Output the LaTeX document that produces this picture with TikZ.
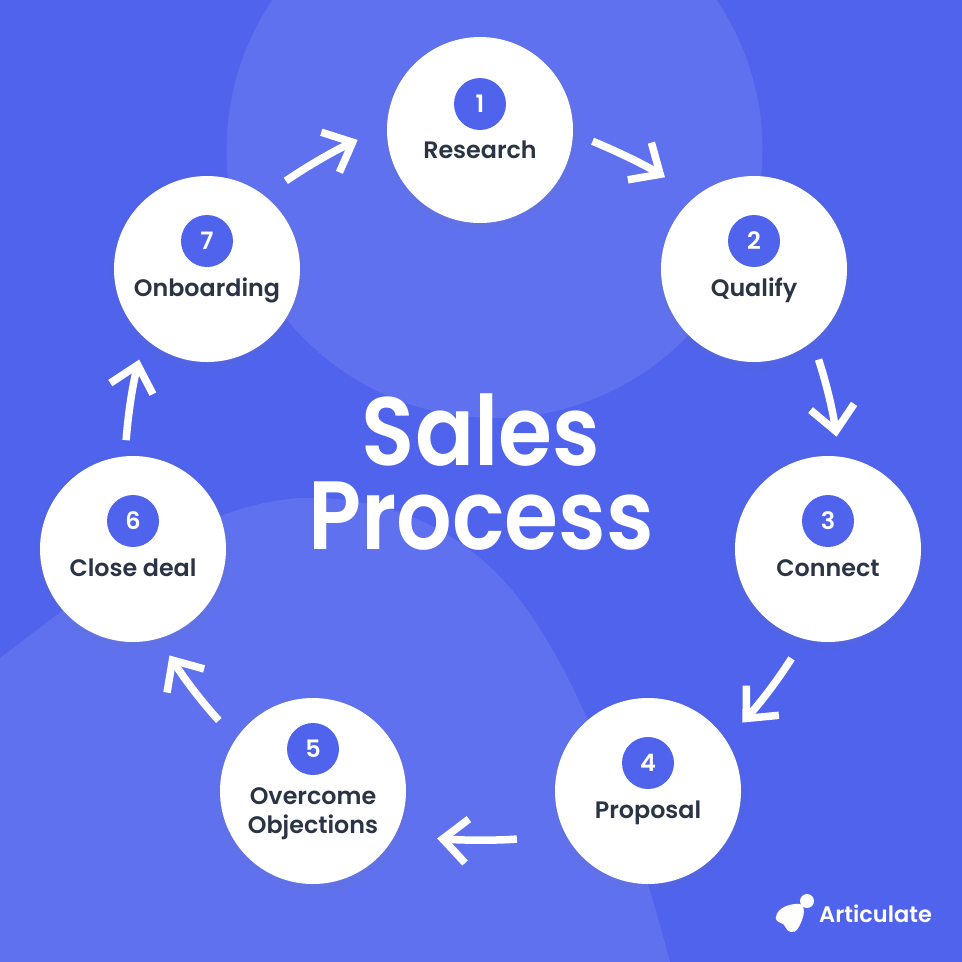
\documentclass[tikz,border=0pt]{standalone}
\usepackage{fontspec}
\setmainfont{Poppins}[UprightFont=* Medium,BoldFont=* SemiBold]
\newfontfamily\titlefont{Poppins SemiBold}[FakeStretch=0.9]
\usepackage{tikz}
\usetikzlibrary{arrows.meta,shadows}
\usepackage{xcolor}
\definecolor{Royal}{HTML}{4F63EC}
\definecolor{SoftRoyal}{HTML}{5F71EE}
\definecolor{Ink}{HTML}{2B3445}

\pgfdeclarearrow{
  name=Vee,
  setup code={
    \pgfarrowssettipend{0pt}
    \pgfarrowssetlineend{-7pt}
    \pgfarrowssetbackend{-30pt}
    \pgfarrowssetvisualbackend{-7pt}
    \pgfarrowshullpoint{0pt}{0pt}
    \pgfarrowshullpoint{-30pt}{23pt}
    \pgfarrowshullpoint{-30pt}{-23pt}
  },
  drawing code={
    \pgfsetdash{}{0pt}
    \pgfsetmiterjoin
    \pgfsetbuttcap
    \pgfpathmoveto{\pgfqpoint{-30pt}{22pt}}
    \pgfpathlineto{\pgfqpoint{-5.6pt}{0pt}}
    \pgfpathlineto{\pgfqpoint{-30pt}{-22pt}}
    \pgfusepathqstroke
  }
}

\begin{document}
\begin{tikzpicture}[
      x=1pt, y=-1pt,
      stage/.style={circle, fill=white, minimum size=186pt, inner sep=0pt,
        circular drop shadow={shadow xshift=0pt, shadow yshift=-3pt, shadow scale=1.07, opacity=.12}},
      badge/.style={circle, fill=Royal, text=white, minimum size=52pt, inner sep=0pt, yshift=28pt, font=\bfseries\fontsize{24}{24}\selectfont},
      label/.style={text=Ink, anchor=base, yshift=-27.5pt, inner sep=0pt, font=\bfseries\fontsize{23.8}{29}\selectfont},
      arrow/.style={-Vee, line width=7.5pt, draw=white, bend left=5}
    ]
    % backdrop
    \fill[Royal] (0,0) rectangle (962,962);
    \begin{scope}
      \clip (0,0) rectangle (962,962);
      \fill[SoftRoyal] (494.5,150) circle (268);
      \fill[SoftRoyal] (0,658) .. controls (90,590) and (190,505) .. (300,498) .. controls (395,495) and (470,535) .. (520,600) .. controls (570,665) and (625,790) .. (670,962) -- (0,962) -- cycle;
    \end{scope}

    \node[stage] (research) at (480,130) {};
    \node[stage] (qualify) at (754,269) {};
    \node[stage] (connect) at (828,549) {};
    \node[stage] (proposal) at (648,791) {};
    \node[stage] (overcome) at (313,791) {};
    \node[stage] (close) at (133,549) {};
    \node[stage] (onboard) at (207,269) {};

    \node[badge, yshift=-2pt] (num1) at (research) {1};
    \node[badge] (num2) at (qualify) {2};
    \node[badge] (num3) at (connect) {3};
    \node[badge] (num4) at (proposal) {4};
    \node[badge, yshift=14pt] (num5) at (overcome) {5};
    \node[badge] (num6) at (close) {6};
    \node[badge] (num7) at (onboard) {7};

    \node[label, yshift=-1pt] (lab1) at (research) {Research};
    \node[label] (lab2) at (qualify) {Qualify};
    \node[label] (lab3) at (connect) {Connect};
    \node[label] (lab4) at (proposal) {Proposal};
    \node[label, anchor=center, align=center, yshift=4.5pt] (lab5) at (overcome) {Overcome\\Objections};
    \node[label] (lab6) at (close) {Close deal};
    \node[label] (lab7) at (onboard) {Onboarding};

    \draw[arrow, shorten <=21pt, shorten >=36pt] (research.-2) to (qualify.129);
    \draw[arrow, shorten <=19pt, shorten >=20pt] (qualify.-51) to (connect.83);
    \draw[arrow, shorten <=23pt, shorten >=24pt] (connect.-105) to (proposal.33);
    \draw[arrow, shorten <=49pt, shorten >=42pt] (proposal.208) to (overcome.-28);
    \draw[arrow, shorten <=25pt, shorten >=20pt] (overcome.146) to (close.-74);
    \draw[arrow, shorten <=16pt, shorten >=22pt] (close.95) to (onboard.228);
    \draw[arrow, shorten <=26pt, shorten >=32pt] (onboard.52) to (research.178);

    \node[text=white, align=center, font=\titlefont\fontsize{97}{84}\selectfont] (title) at (481,472.5) {Sales\\Process};

    % logo
    \node[circle, fill=white, minimum size=14pt, inner sep=0pt] (dot) at (807,901) {};
    \fill[white] (776,917) .. controls (777,908) and (790,903) .. (800,904) .. controls (806,906) and (804,915) .. (802,920) .. controls (799,927) and (797,933) .. (791,932) .. controls (785,931) and (786,924) .. (781,923) .. controls (778,922) and (775,920) .. (776,917) -- cycle;
    \node[text=white, anchor=west, inner sep=0pt, font=\bfseries\fontsize{22.5}{22.5}\selectfont] (brand) at (819,914) {Articulate};
  \end{tikzpicture}
\end{document}
